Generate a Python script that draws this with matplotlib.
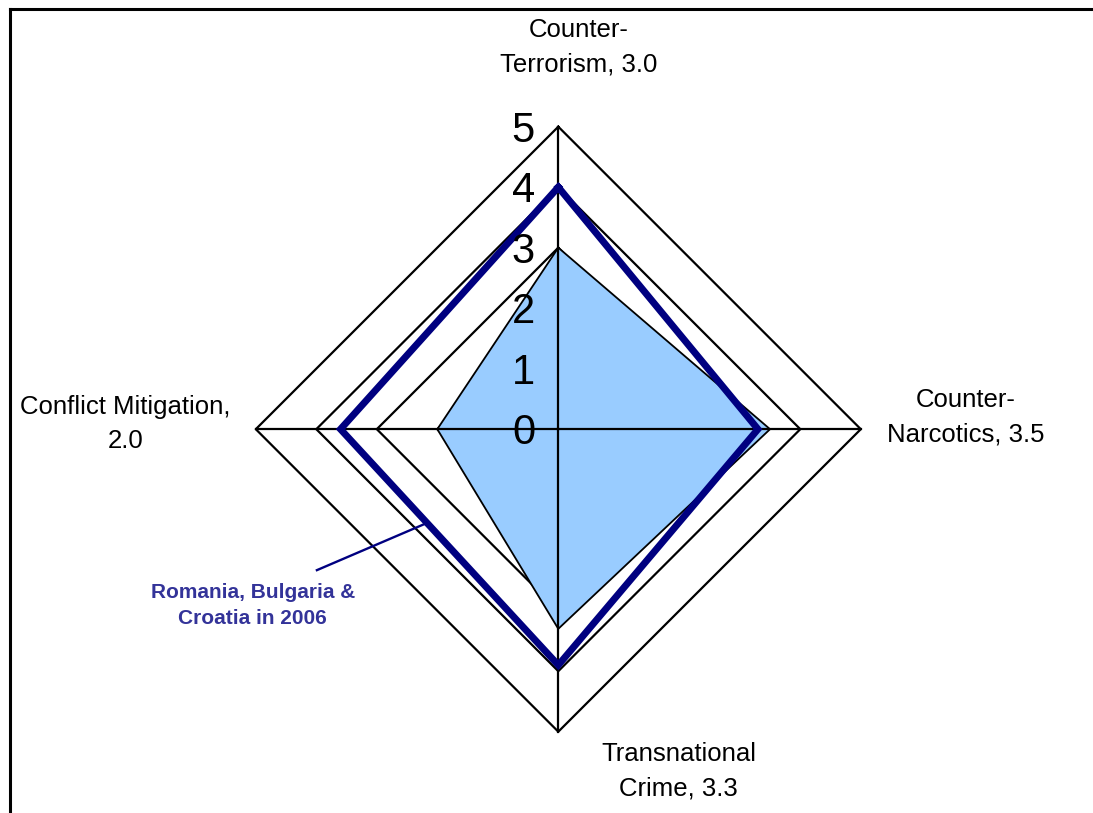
import numpy as np
import matplotlib
matplotlib.use("Agg")
import matplotlib.pyplot as plt
from matplotlib.lines import Line2D

plt.rcParams["font.family"] = ["Liberation Sans", "DejaVu Sans"]

# ==================== DATA ==========================================
categories = ["Counter-\nTerrorism, 3.0", "Counter-\nNarcotics, 3.5",
              "Transnational\nCrime, 3.3", "Conflict Mitigation,\n2.0"]
current = [3.0, 3.5, 3.3, 2.0]
target_2006 = [4.0, 3.3, 3.9, 3.6]
target_label = "Romania, Bulgaria &\nCroatia in 2006"
rings = [1, 2, 3, 4, 5]
tick_labels = ["0", "1", "2", "3", "4", "5"]

# axes go clockwise from the top
angles = np.pi / 2 - np.arange(len(categories)) * np.pi / 2


def to_xy(vals):
    vals = np.asarray(vals, dtype=float)
    x = vals * np.cos(angles)
    y = vals * np.sin(angles)
    return np.append(x, x[0]), np.append(y, y[0])


fig = plt.figure(figsize=(10.93, 8.13), dpi=100)
ax = fig.add_axes([0, 0, 1, 1])
ax.set_xlim(-9.228, 8.838)
ax.set_ylim(-6.344, 7.094)
ax.axis("off")

# grid diamonds
for r in rings:
    gx, gy = to_xy([r] * len(categories))
    ax.plot(gx, gy, color="black", lw=1.6, zorder=1)

# current values (filled)
cx, cy = to_xy(current)
ax.fill(cx, cy, facecolor="#99CCFF", edgecolor="black", lw=1.3, zorder=2)

# spokes
for a in angles:
    ax.plot([0, 5 * np.cos(a)], [0, 5 * np.sin(a)], color="black", lw=1.6, zorder=3)

# 2006 target line
tx, ty = to_xy(target_2006)
ax.plot(tx, ty, color="#000080", lw=5, zorder=4, solid_joinstyle="miter")

# radial tick labels
for i, lab in enumerate(tick_labels):
    ax.text(-0.385, i - 0.07, lab, ha="right", va="center", fontsize=30, zorder=5)

# category labels
label_pos = [(0.33, 6.31), (6.74, 0.20), (1.99, -5.65), (-7.15, 0.09)]
for lab, (lx, ly) in zip(categories, label_pos):
    ax.text(lx, ly, lab, ha="center", va="center", fontsize=18.5,
            linespacing=1.55)

# callout
ax.plot([-3.99, -2.17], [-2.33, -1.55], color="#000080", lw=1.7, zorder=5)
ax.text(-5.05, -2.91, target_label, ha="center", va="center", fontsize=15,
        fontweight="bold", color="#333399", linespacing=1.45)

# outer frame (left and top only)
fig.add_artist(Line2D([9.5 / 1093, 9.5 / 1093], [0, 1 - 9.5 / 813],
                      transform=fig.transFigure, color="black", lw=2.2))
fig.add_artist(Line2D([9.5 / 1093, 1], [1 - 9.5 / 813, 1 - 9.5 / 813],
                      transform=fig.transFigure, color="black", lw=2.2))

fig.savefig("out.png", dpi=100)
